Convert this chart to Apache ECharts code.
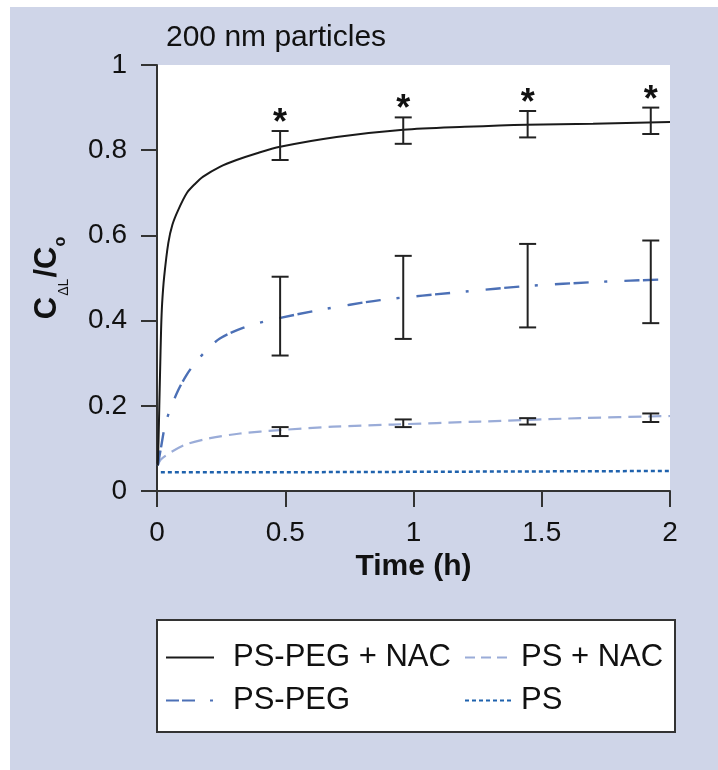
<!DOCTYPE html>
<html>
<head>
<meta charset="utf-8">
<script src="https://cdn.jsdelivr.net/npm/echarts@6/dist/echarts.min.js"></script>
<style>
html,body{margin:0;padding:0;background:#fff;}
#chart{width:718px;height:770px;}
</style>
</head>
<body>
<div id="chart"></div>
<script>
// ---- data ----
var xTicks = [0, 0.5, 1, 1.5, 2];
var yTicks = [0, 0.2, 0.4, 0.6, 0.8, 1];
var seriesNames = ['PS-PEG + NAC', 'PS + NAC', 'PS-PEG', 'PS'];

var pegNacT = [0.003, 0.006, 0.009, 0.012, 0.016, 0.02, 0.028, 0.044, 0.06, 0.083, 0.117, 0.15, 0.18, 0.245, 0.31, 0.39, 0.48, 0.7, 0.96, 1.2, 1.44, 1.7, 2.0];
var pegNacV = [0.06, 0.12, 0.2, 0.28, 0.38, 0.44, 0.503, 0.582, 0.625, 0.66, 0.70, 0.722, 0.738, 0.761, 0.777, 0.793, 0.808, 0.831, 0.848, 0.855, 0.86, 0.862, 0.866];

var pegT = [0.003, 0.015, 0.03, 0.05, 0.083, 0.115, 0.148, 0.194, 0.245, 0.335, 0.44, 0.635, 0.87, 1.2, 1.44, 1.727, 2.0];
var pegV = [0.06, 0.10, 0.15, 0.19, 0.237, 0.272, 0.30, 0.331, 0.358, 0.383, 0.401, 0.425, 0.448, 0.468, 0.481, 0.491, 0.497];

var psNacT = [0.003, 0.015, 0.057, 0.116, 0.207, 0.324, 0.48, 0.687, 0.92, 1.26, 1.65, 2.0];
var psNacV = [0.06, 0.074, 0.092, 0.11, 0.124, 0.135, 0.143, 0.151, 0.156, 0.163, 0.171, 0.176];

var psT = [0.015, 0.5, 1.0, 1.5, 2.0];
var psV = [0.044, 0.044, 0.045, 0.046, 0.047];

var errT = [0.48, 0.96, 1.445, 1.925];
var pegNacLow = [0.777, 0.815, 0.830, 0.838];
var pegNacHigh = [0.845, 0.877, 0.892, 0.900];
var pegLow = [0.318, 0.357, 0.384, 0.394];
var pegHigh = [0.503, 0.552, 0.580, 0.588];
var psNacLow = [0.129, 0.150, 0.156, 0.162];
var psNacHigh = [0.150, 0.168, 0.171, 0.182];
var starMarks = ['*', '*', '*', '*'];

function zip(a, b) { return a.map(function (v, i) { return [v, b[i]]; }); }

var errData = [];
[[pegNacLow, pegNacHigh, true], [pegLow, pegHigh, false], [psNacLow, psNacHigh, false]].forEach(function (s) {
  errT.forEach(function (t, i) {
    errData.push([t, s[0][i], s[1][i], s[2] ? 1 : 0]);
  });
});

var FONT = '"Liberation Sans", Arial, Helvetica, sans-serif';
var chart = echarts.init(document.getElementById('chart'));

var legendCommon = {
  orient: 'vertical', top: 636, itemGap: 0, itemWidth: 48, itemHeight: 14, padding: 0,
  itemStyle: { color: 'rgba(0,0,0,0)', borderColor: 'rgba(0,0,0,0)', borderWidth: 0, opacity: 0 }
};

var option = {
  animation: false,
  backgroundColor: '#ffffff',
  textStyle: { fontFamily: FONT },
  graphic: [
    { type: 'rect', z: -10, shape: { x: 10, y: 7, width: 708, height: 763 }, style: { fill: '#cfd5e8' } },
    { type: 'rect', z: -5, shape: { x: 157, y: 620, width: 518, height: 112 }, style: { fill: '#ffffff', stroke: '#333333', lineWidth: 2 } },
    {
      type: 'text', x: 47, y: 278, rotation: Math.PI / 2,
      style: {
        text: '{b|C}{s|ΔL}{b|/C}{s2|o}',
        align: 'center', verticalAlign: 'middle',
        rich: {
          b: { fontFamily: FONT, fontWeight: 'bold', fontSize: 31, lineHeight: 32, fill: '#111', verticalAlign: 'bottom' },
          s: { fontFamily: FONT, fontSize: 14, lineHeight: 16, fill: '#111', verticalAlign: 'bottom', padding: [0, 1, -8, 1] },
          s2: { fontFamily: FONT, fontWeight: 'bold', fontSize: 16, lineHeight: 16, fill: '#111', verticalAlign: 'bottom', padding: [0, 0, -6, 0] }
        }
      }
    }
  ],
  title: {
    text: '200 nm particles', left: 161, top: 18,
    textStyle: { fontFamily: FONT, fontSize: 30, fontWeight: 'normal', color: '#111' }
  },
  legend: [
    Object.assign({}, legendCommon, {
      left: 165,
      data: [
        { name: seriesNames[0] },
        { name: seriesNames[2], lineStyle: { type: [13, 3, 13, 15, 3, 10] } }
      ],
      textStyle: { fontFamily: FONT, fontSize: 31, color: '#111', lineHeight: 43, padding: [0, 0, 0, 14] }
    }),
    Object.assign({}, legendCommon, {
      left: 464,
      data: [
        { name: seriesNames[1], lineStyle: { type: [10, 6] } },
        { name: seriesNames[3] }
      ],
      textStyle: { fontFamily: FONT, fontSize: 31, color: '#111', lineHeight: 43, padding: [0, 0, 0, 3] }
    })
  ],
  grid: { left: 157, right: 48, top: 65, bottom: 279, show: true, backgroundColor: '#ffffff', borderWidth: 0 },
  xAxis: {
    type: 'value', min: xTicks[0], max: xTicks[xTicks.length - 1], interval: 0.5,
    name: 'Time (h)', nameLocation: 'middle', nameGap: 61,
    nameTextStyle: { fontFamily: FONT, fontSize: 30, fontWeight: 'bold', color: '#111' },
    axisLine: { show: true, lineStyle: { color: '#333', width: 2 } },
    axisTick: { show: true, length: 16, lineStyle: { color: '#333', width: 2 } },
    axisLabel: { margin: 28, fontFamily: FONT, fontSize: 28, color: '#111', formatter: function (v) { return String(v); } },
    splitLine: { show: false }
  },
  yAxis: {
    type: 'value', min: yTicks[0], max: yTicks[yTicks.length - 1], interval: 0.2,
    axisLine: { show: true, lineStyle: { color: '#333', width: 2 } },
    axisTick: { show: true, length: 16, lineStyle: { color: '#333', width: 2 } },
    axisLabel: { margin: 30, fontFamily: FONT, fontSize: 28, color: '#111', formatter: function (v) { return String(Math.round(v * 10) / 10); } },
    splitLine: { show: false }
  },
  series: [
    {
      name: seriesNames[0], type: 'line', data: zip(pegNacT, pegNacV), symbol: 'none',
      smooth: 0.3, z: 4,
      lineStyle: { color: '#1a1a1a', width: 2, type: 'solid' }, itemStyle: { color: '#1a1a1a' }
    },
    {
      name: seriesNames[1], type: 'line', data: zip(psNacT, psNacV), symbol: 'none',
      smooth: 0.3, z: 3,
      lineStyle: { color: '#9aacd8', width: 2.2, type: [13, 7] }, itemStyle: { color: '#9aacd8' }
    },
    {
      name: seriesNames[2], type: 'line', data: zip(pegT, pegV), symbol: 'none',
      smooth: 0.3, z: 3,
      lineStyle: { color: '#4c70b6', width: 2.4, type: [15, 3.5, 15, 16, 3, 17] }, itemStyle: { color: '#4c70b6' }
    },
    {
      name: seriesNames[3], type: 'line', data: zip(psT, psV), symbol: 'none',
      z: 3,
      lineStyle: { color: '#1f62ad', width: 2.5, type: [4, 3] }, itemStyle: { color: '#1f62ad' }
    },
    {
      name: 'err', type: 'custom', z: 6, data: errData, silent: true,
      renderItem: function (params, api) {
        var x = api.value(0), lo = api.value(1), hi = api.value(2), star = api.value(3);
        var p1 = api.coord([x, lo]), p2 = api.coord([x, hi]);
        var cw = 8.5;
        var st = { stroke: '#222', lineWidth: 2 };
        var children = [
          { type: 'line', shape: { x1: p1[0], y1: p1[1], x2: p2[0], y2: p2[1] }, style: st },
          { type: 'line', shape: { x1: p1[0] - cw, y1: p1[1], x2: p1[0] + cw, y2: p1[1] }, style: st },
          { type: 'line', shape: { x1: p2[0] - cw, y1: p2[1], x2: p2[0] + cw, y2: p2[1] }, style: st }
        ];
        if (star) {
          children.push({
            type: 'text', x: p2[0], y: p2[1] - 7,
            style: { text: starMarks[params.dataIndex % 4], fontFamily: FONT, fontSize: 36, fontWeight: 'bold', fill: '#111', align: 'center', verticalAlign: 'middle' }
          });
        }
        return { type: 'group', children: children };
      }
    }
  ]
};
chart.setOption(option);
</script>
</body>
</html>
